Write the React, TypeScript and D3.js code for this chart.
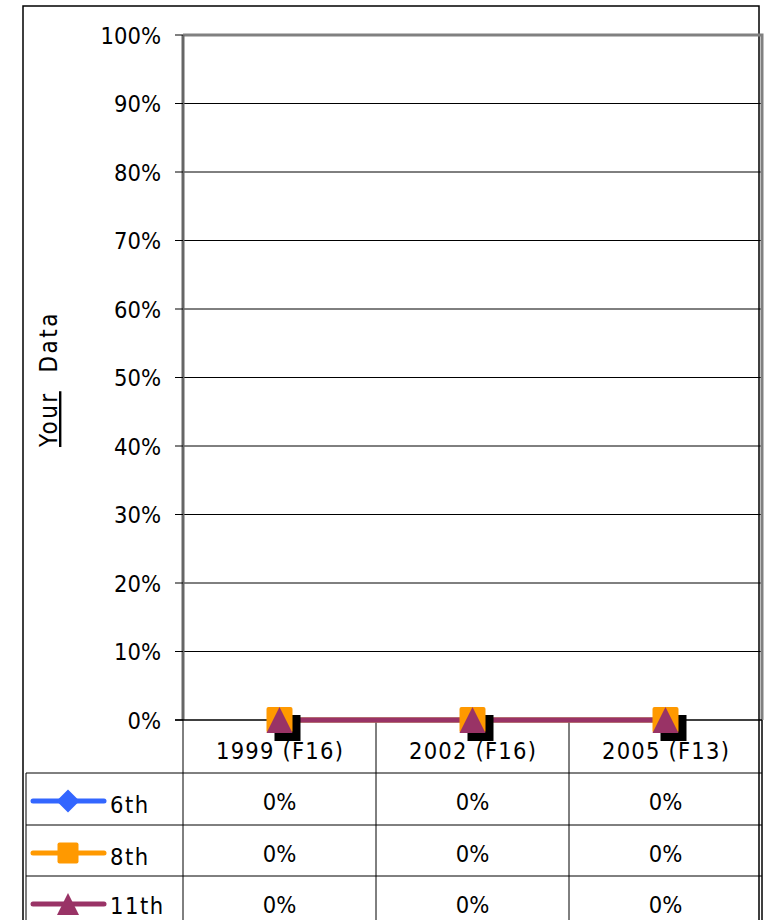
import React from "react";
import * as d3 from "d3";

const categories = ["1999 (F16)", "2002 (F16)", "2005 (F13)"];
const grade6 = [0, 0, 0];
const grade8 = [0, 0, 0];
const grade11 = [0, 0, 0];
const yTicks = [0, 0.1, 0.2, 0.3, 0.4, 0.5, 0.6, 0.7, 0.8, 0.9, 1.0];

const series = [
  { name: "6th", values: grade6, color: "#3366FF", marker: "diamond" },
  { name: "8th", values: grade8, color: "#FF9900", marker: "square" },
  { name: "11th", values: grade11, color: "#993366", marker: "triangle" },
];

const FONT = "'DejaVu Sans Condensed', 'DejaVu Sans', sans-serif";
const FS = 23.5;

function Marker({ type, x, y, color, size }: any) {
  const s = size / 2;
  if (type === "diamond") {
    return <path d={`M${x},${y - s}L${x + s},${y}L${x},${y + s}L${x - s},${y}Z`} fill={color} />;
  }
  if (type === "square") {
    return <rect x={x - s} y={y - s} width={size} height={size} rx={2} fill={color} />;
  }
  return <path d={`M${x},${y - s}L${x + s},${y + s}L${x - s},${y + s}Z`} fill={color} />;
}

export default function App() {
  const W = 766, H = 920;
  const left = 183, right = 762, top = 35, bottom = 720;
  const x = d3.scaleBand<string>().domain(categories).range([left, right]);
  const y = d3.scaleLinear().domain([0, 1]).range([bottom, top]);
  const fmt = d3.format(".0%");
  const rowY = [773, 825, 876];
  const colEdges = [left, ...categories.map((c) => (x(c) as number) + x.bandwidth())];
  const cx = (c: string) => (x(c) as number) + x.bandwidth() / 2;
  const line = d3
    .line<number>()
    .x((_, i) => cx(categories[i]))
    .y((d) => y(d));

  return (
    <svg width={W} height={H} style={{ position: "absolute", left: 0, top: 0, background: "#fff" }}>
      <rect x={0} y={0} width={W} height={H} fill="#fff" />
      <path d={`M23,${H}L23,6L759,6L759,${H}`} fill="none" stroke="#000" strokeWidth={1.5} />
      {yTicks.slice(1, -1).map((t) => (
        <line key={t} x1={left} x2={right} y1={y(t)} y2={y(t)} stroke="#000" strokeWidth={1} />
      ))}
      <path d={`M${left},${top}L${right},${top}L${right},${bottom}`} fill="none" stroke="#808080" strokeWidth={3} />
      <line x1={left} x2={left} y1={top} y2={bottom} stroke="#666" strokeWidth={3} />
      {yTicks.map((t) => (
        <g key={"t" + t}>
          <line x1={left - 8} x2={left} y1={y(t)} y2={y(t)} stroke="#000" strokeWidth={1} />
          <text x={161} y={y(t) + 8.5} textAnchor="end" fontFamily={FONT} fontSize={FS} fill="#000">
            {fmt(t)}
          </text>
        </g>
      ))}
      <text
        transform={`translate(57,379) rotate(-90)`}
        textAnchor="middle"
        fontFamily={FONT}
        fontSize={24}
        letterSpacing={2.5}
        fill="#000"
      >
        <tspan textDecoration="underline">Your</tspan>
        <tspan>{"\u00a0 Data"}</tspan>
      </text>
      {rowY.map((ry) => (
        <line key={"r" + ry} x1={26} x2={right} y1={ry} y2={ry} stroke="#000" strokeWidth={1} />
      ))}
      <line x1={26} x2={26} y1={rowY[0]} y2={H} stroke="#000" strokeWidth={1} />
      {colEdges.map((ex, i) => (
        <line key={"c" + i} x1={ex} x2={ex} y1={bottom} y2={H} stroke="#000" strokeWidth={i === colEdges.length - 1 ? 1.5 : 1} />
      ))}
      {categories.map((c) => (
        <text key={c} x={cx(c) + 0.6} y={759} textAnchor="middle" fontFamily={FONT} fontSize={FS} letterSpacing={1.2} fill="#000">
          {c}
        </text>
      ))}
      {series.map((s, si) => {
        const my = rowY[si] + 28;
        return (
          <g key={s.name}>
            <line x1={33} x2={104} y1={my} y2={my} stroke={s.color} strokeWidth={5} strokeLinecap="round" />
            <Marker type={s.marker} x={68} y={my} color={s.color} size={s.marker === "square" ? 21 : s.marker === "diamond" ? 23 : 22} />
            <text x={110} y={Math.min(my + 12, 914)} fontFamily={FONT} fontSize={FS} letterSpacing={1.5} fill="#000">
              {s.name}
            </text>
            {s.values.map((v, i) => (
              <text key={i} x={cx(categories[i])} y={rowY[si] + 37} textAnchor="middle" fontFamily={FONT} fontSize={FS} fill="#000">
                {fmt(v)}
              </text>
            ))}
          </g>
        );
      })}
      <line x1={left - 8} x2={right} y1={bottom} y2={bottom} stroke="#000" strokeWidth={1.5} />
      {series.map((s) => (
        <path key={"s" + s.name} d={line(s.values) as string} fill="none" stroke={s.color} strokeWidth={5} />
      ))}
      {series.map((s) =>
        s.values.map((v, i) => {
          const px = cx(categories[i]);
          const py = y(v);
          return (
            <g key={s.name + i}>
              {s.marker === "square" && <rect x={px - 5} y={py - 5} width={26} height={26} fill="#000" />}
              <Marker type={s.marker} x={px} y={py} color={s.color} size={s.marker === "diamond" ? 24 : 26} />
            </g>
          );
        })
      )}
    </svg>
  );
}
